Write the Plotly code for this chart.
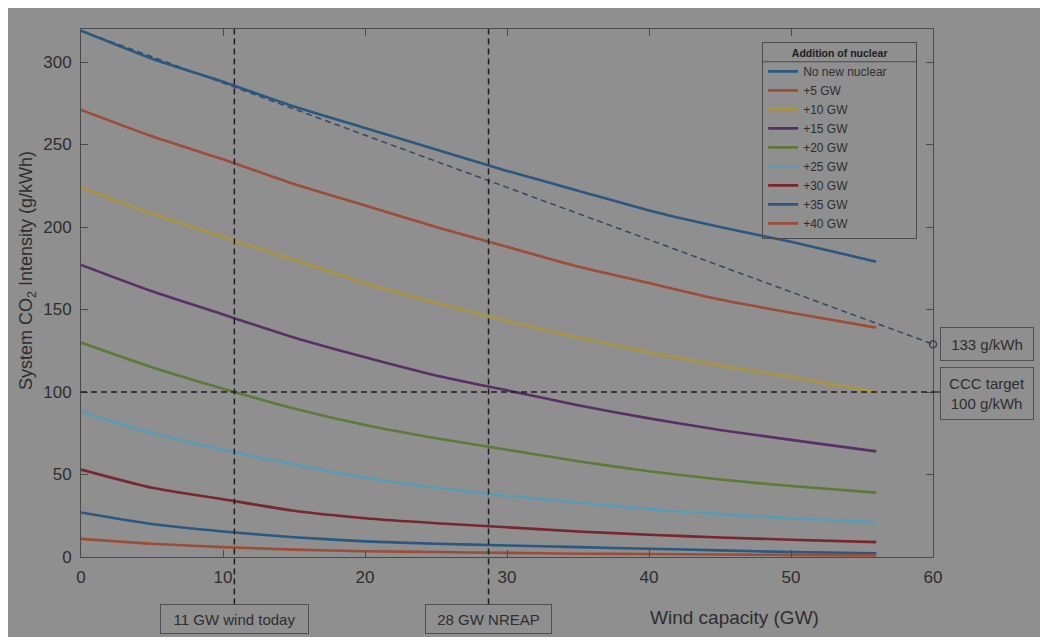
import plotly.graph_objects as go

wind_gw = [0, 5, 10, 15, 20, 25, 30, 35, 40, 45, 50, 56]
series_names = ["No new nuclear", "+5 GW", "+10 GW", "+15 GW", "+20 GW",
                "+25 GW", "+30 GW", "+35 GW", "+40 GW"]
no_new = [319, 302, 288, 273, 260, 247, 234, 222, 210, 200, 191, 179]
plus5 = [271, 255, 241, 226, 213, 200, 188, 176, 166, 156, 148, 139]
plus10 = [224, 208, 194, 180, 166, 154, 143, 133, 124, 116, 109, 100]
plus15 = [177, 161, 147, 133, 121, 110, 101, 92, 84, 77, 71, 64]
plus20 = [130, 115, 102, 90, 80, 72, 65, 58, 52, 47, 43, 39]
plus25 = [88, 75, 65, 56, 48, 42, 37, 33, 29, 26, 23.5, 21]
plus30 = [53, 42, 35, 28, 23.5, 20.5, 18, 15.5, 13.5, 11.8, 10.5, 9]
plus35 = [27, 20, 15.5, 12, 9.5, 8, 7, 6, 5, 4, 3, 2.2]
plus40 = [11, 8, 6, 4.5, 3.5, 3, 2.5, 2, 1.8, 1.5, 1.3, 1]
series_values = [no_new, plus5, plus10, plus15, plus20, plus25, plus30, plus35, plus40]
colors = ["#2a5880", "#9c4d38", "#aa9640", "#583066", "#5c7b39",
          "#5a9ab4", "#782630", "#2a5880", "#9c4d38"]

trend_x = [0, 60]
trend_y = [319, 129]
wind_today = 10.8
wind_nreap = 28.7
ccc_target = 100

BG = "#8f8f8f"
TXT = "#2e2e2e"
AX = "#4a4a4a"
FONT = "Liberation Sans, Arial, sans-serif"

fig = go.Figure()

# dashed diagonal trend
fig.add_trace(go.Scatter(x=trend_x, y=trend_y, mode="lines",
                         line=dict(color="#3a4660", width=1.5, dash="6px,4px"),
                         showlegend=False, hoverinfo="skip", cliponaxis=False))
fig.add_trace(go.Scatter(x=[trend_x[1]], y=[trend_y[1]], mode="markers",
                         marker=dict(symbol="circle-open", size=7,
                                     color="#3a4660", line=dict(width=1.5)),
                         showlegend=False, hoverinfo="skip", cliponaxis=False))

for name, vals, c in zip(series_names, series_values, colors):
    fig.add_trace(go.Scatter(x=wind_gw, y=vals, mode="lines", name=name,
                             line=dict(color=c, width=2.6, shape="spline",
                                       smoothing=0.6)))

shapes = [
    # vertical dashed lines
    dict(type="line", xref="x", yref="paper", x0=wind_today, x1=wind_today,
         y0=-0.09, y1=1, line=dict(color="#1e1e1e", width=1.5, dash="6px,4px")),
    dict(type="line", xref="x", yref="paper", x0=wind_nreap, x1=wind_nreap,
         y0=-0.09, y1=1, line=dict(color="#1e1e1e", width=1.5, dash="6px,4px")),
    # horizontal target line
    dict(type="line", xref="x", yref="y", x0=0, x1=60, y0=ccc_target,
         y1=ccc_target, line=dict(color="#1e1e1e", width=1.5, dash="6px,4px")),
    dict(type="line", xref="paper", yref="y", x0=1.0, x1=1.01, y0=ccc_target,
         y1=ccc_target, line=dict(color="#1e1e1e", width=1.2)),
    # legend title separator
    dict(type="line", xref="paper", yref="paper", x0=0.7995, x1=0.98,
         y0=0.938, y1=0.938, line=dict(color=AX, width=1)),
]

box = dict(bordercolor="#505050", borderwidth=1, bgcolor=BG,
           font=dict(family=FONT, size=15, color=TXT), showarrow=False,
           xanchor="center", yanchor="middle")
annotations = [
    dict(text="11 GW wind today", x=wind_today, xref="x", y=-0.117, yref="paper",
         width=145, height=26, **box),
    dict(text="28 GW NREAP", x=wind_nreap, xref="x", y=-0.117, yref="paper",
         width=123, height=26, **box),
    dict(text="133 g/kWh", x=1.063, xref="paper", y=129, yref="y",
         width=90, height=30, **box),
    dict(text="CCC target<br>100 g/kWh", x=1.063, xref="paper", y=99, yref="y",
         width=90, height=49, **box),
    dict(text="Wind capacity (GW)", x=46.0, xref="x", y=-0.114, yref="paper",
         showarrow=False, xanchor="center", yanchor="middle",
         font=dict(family=FONT, size=19, color=TXT)),
    dict(text="System CO<sub>2</sub> Intensity (g/kWh)", x=-0.062, xref="paper",
         y=0.542, yref="paper", textangle=-90, showarrow=False,
         xanchor="center", yanchor="middle",
         font=dict(family=FONT, size=18, color=TXT)),
]

axis_common = dict(showline=True, linecolor=AX, linewidth=1, mirror="ticks",
                   ticks="inside", ticklen=7, tickcolor=AX, showgrid=False,
                   zeroline=False, tickfont=dict(family=FONT, size=17, color=TXT))

pad = "&nbsp;" * 9
fig.update_layout(
    width=1032, height=629,
    margin=dict(l=73, r=107, t=21, b=80),
    paper_bgcolor=BG, plot_bgcolor=BG,
    font=dict(family=FONT, color=TXT),
    xaxis=dict(range=[0, 60], dtick=10, ticklabelstandoff=5, **axis_common),
    yaxis=dict(range=[0, 320], dtick=50, ticklabelstandoff=5, **axis_common),
    legend=dict(x=0.7995, y=0.975, xanchor="left", yanchor="top",
                bgcolor="rgba(0,0,0,0)", bordercolor=AX, borderwidth=1,
                font=dict(family=FONT, size=12, color=TXT), tracegroupgap=0,
                title=dict(text=pad + "<b>Addition of nuclear</b>" + pad,
                           side="top center",
                           font=dict(family=FONT, size=10.5, color="#1e1e1e"))),
    shapes=shapes, annotations=annotations,
)

fig.write_html("out.html")
